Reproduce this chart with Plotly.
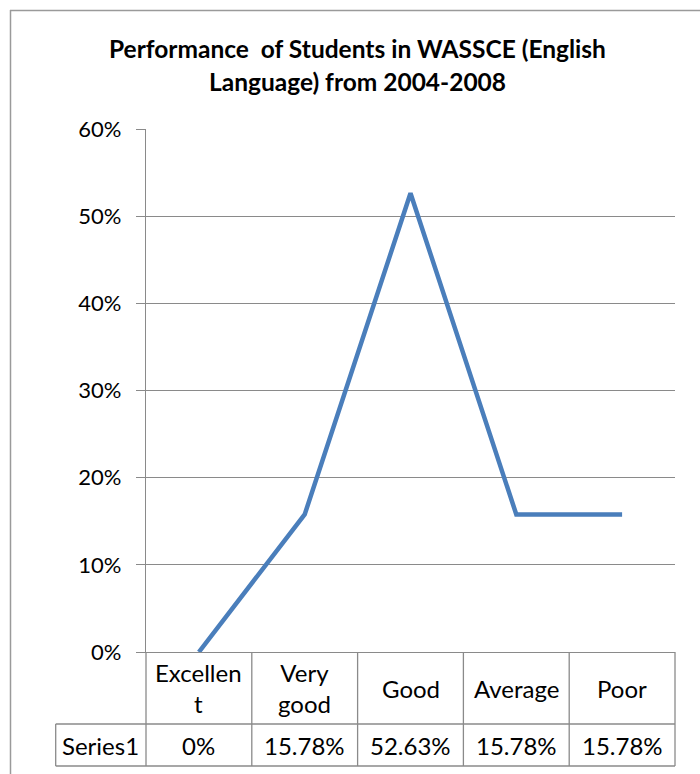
import plotly.graph_objects as go

# Grades and share of students per grade
categories = ["Excellent", "Very good", "Good", "Average", "Poor"]
header_labels = ["Excellen<br>t", "Very<br>good", "Good", "Average", "Poor"]
series_name = "Series1"
values = [0.0, 0.1578, 0.5263, 0.1578, 0.1578]
title_lines = ["Performance  of Students in WASSCE (English", "Language) from 2004-2008"]

W, H = 700, 774
ML, MR, MT, MB = 146, 25, 129, 122
PW, PH = W - ML - MR, H - MT - MB

FONT = "Lato"
GRID = "#8a8a8a"
LINE_BLUE = "#4a7ebb"


def px_x(p):
    return (p - ML) / PW


def px_y(p):
    return (H - MB - p) / PH


def fmt(v):
    return "0%" if v == 0 else f"{v * 100:.2f}%"


fig = go.Figure()
fig.add_trace(go.Scatter(
    x=categories, y=values, mode="lines",
    line=dict(color=LINE_BLUE, width=4.5),
    hoverinfo="skip", showlegend=False,
))

shapes = []
n = len(categories)
row1_bottom = px_y(724)
row2_bottom = px_y(766)
left_cell = px_x(55.7)
line_style = dict(color=GRID, width=1.3)

# horizontal rules of the data table
for yb in (row1_bottom, row2_bottom):
    shapes.append(dict(type="line", xref="paper", yref="paper",
                       x0=left_cell, x1=1, y0=yb, y1=yb, line=line_style))
# vertical rules at category boundaries
for k in range(n + 1):
    xb = k / n
    shapes.append(dict(type="line", xref="paper", yref="paper",
                       x0=xb, x1=xb, y0=0, y1=row2_bottom, line=line_style))
# left edge of the series-name cell
shapes.append(dict(type="line", xref="paper", yref="paper",
                   x0=left_cell, x1=left_cell, y0=row1_bottom, y1=row2_bottom,
                   line=line_style))
# chart frame
frame = dict(color="#9a9a9a", width=1.5)
shapes.append(dict(type="line", xref="paper", yref="paper",
                   x0=px_x(10), x1=px_x(W + 5), y0=px_y(10.5), y1=px_y(10.5), line=frame))
shapes.append(dict(type="line", xref="paper", yref="paper",
                   x0=px_x(10.5), x1=px_x(10.5), y0=px_y(10), y1=px_y(H + 5), line=frame))

annotations = []
table_font = dict(family=FONT, size=24, color="#000000")
for cat, lab, v in zip(categories, header_labels, values):
    annotations.append(dict(x=cat, xref="x", y=px_y(688), yref="paper",
                            text=lab, showarrow=False, font=table_font,
                            xanchor="center", yanchor="middle"))
    annotations.append(dict(x=cat, xref="x", y=px_y(745), yref="paper",
                            text=fmt(v), showarrow=False, font=table_font,
                            xanchor="center", yanchor="middle"))
annotations.append(dict(x=(px_x(55.7) + 0) / 2, xref="paper", y=px_y(745), yref="paper",
                        text=series_name, showarrow=False, font=table_font,
                        xanchor="center", yanchor="middle"))

title_font = dict(family=FONT, size=24.5, color="#000000")
for ty, t in zip((48, 82), title_lines):
    annotations.append(dict(x=px_x(357), xref="paper", y=px_y(ty), yref="paper",
                            text=f"<b>{t}</b>", showarrow=False, font=title_font,
                            xanchor="center", yanchor="middle"))

fig.update_layout(
    width=W, height=H,
    margin=dict(l=ML, r=MR, t=MT, b=MB, pad=0),
    paper_bgcolor="white", plot_bgcolor="white",
    shapes=shapes, annotations=annotations,
    showlegend=False,
)
fig.update_xaxes(
    type="category", range=[-0.5, n - 0.5],
    showticklabels=False, showgrid=False, zeroline=False,
    showline=True, linecolor=GRID, linewidth=1.3, ticks="",
)
fig.update_yaxes(
    range=[0, 0.6], dtick=0.1, tickformat=".0%",
    showgrid=True, gridcolor=GRID, gridwidth=1.3, zeroline=False,
    showline=True, linecolor=GRID, linewidth=1.3,
    ticks="outside", ticklen=9, tickcolor=GRID, tickwidth=1.3,
    ticklabelstandoff=10,
    tickfont=dict(family=FONT, size=22, color="#000000"),
)

fig.write_html("out.html")
